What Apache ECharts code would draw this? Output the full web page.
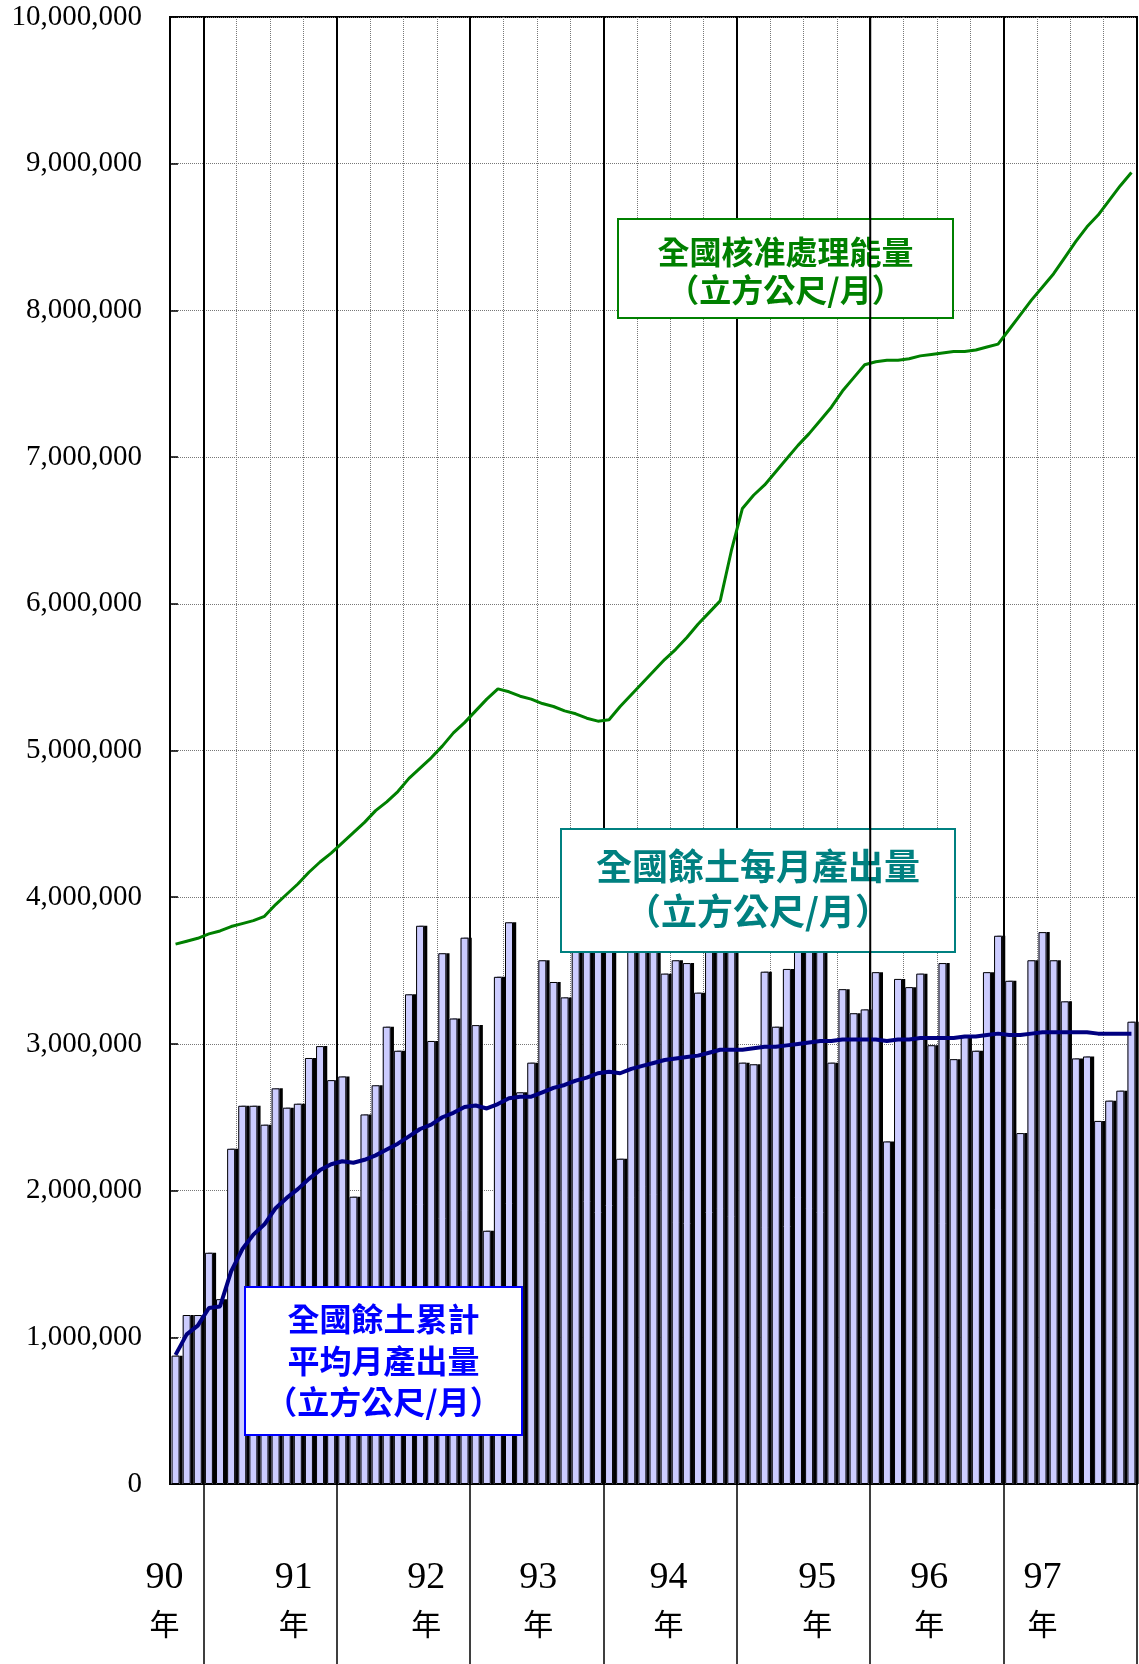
<!DOCTYPE html>
<html><head><meta charset="utf-8">
<script src="https://cdn.jsdelivr.net/npm/echarts@6/dist/echarts.min.js"></script>
<style>html,body{margin:0;padding:0;background:#fff}#c{width:1139px;height:1664px}</style>
</head><body><div id="c"></div>
<script>
const months = [
'90/10','90/11','90/12',
'91/01','91/02','91/03','91/04','91/05','91/06','91/07','91/08','91/09','91/10','91/11','91/12',
'92/01','92/02','92/03','92/04','92/05','92/06','92/07','92/08','92/09','92/10','92/11','92/12',
'93/01','93/02','93/03','93/04','93/05','93/06','93/07','93/08','93/09','93/10','93/11','93/12',
'94/01','94/02','94/03','94/04','94/05','94/06','94/07','94/08','94/09','94/10','94/11','94/12',
'95/01','95/02','95/03','95/04','95/05','95/06','95/07','95/08','95/09','95/10','95/11','95/12',
'96/01','96/02','96/03','96/04','96/05','96/06','96/07','96/08','96/09','96/10','96/11','96/12',
'97/01','97/02','97/03','97/04','97/05','97/06','97/07','97/08','97/09','97/10','97/11','97/12'];

// 全國餘土每月產出量 (m3/month)
const monthlyOutput = [
875000,1152000,1152000,1576000,1260000,2285000,2578000,2578000,2449000,2697000,
2565000,2592000,2904000,2985000,2753000,2778000,1958000,2519000,2718000,3117000,
2953000,3338000,3805000,3020000,3618000,3173000,3724000,3128000,1726000,3457000,
3829000,2670000,2872000,3570000,3422000,3317000,3750000,3850000,3700000,3800000,
2217000,3900000,4050000,3950000,3479000,3570000,3551000,3349000,3700000,3750000,
3650000,2872000,2861000,3492000,3117000,3511000,3900000,3750000,3700000,2872000,
3373000,3209000,3235000,3489000,2335000,3443000,3387000,3479000,2991000,3551000,
2896000,3058000,2953000,3489000,3737000,3430000,2392000,3570000,3762000,3570000,
3290000,2901000,2914000,2475000,2613000,2681000,3151000];

// 全國核准處理能量
const approvedCapacity = [
3680000,3700000,3720000,3750000,3770000,3800000,3820000,3840000,3870000,3950000,
4020000,4090000,4170000,4240000,4300000,4370000,4440000,4510000,4590000,4650000,
4720000,4810000,4880000,4950000,5030000,5120000,5190000,5270000,5350000,5420000,
5400000,5370000,5350000,5320000,5300000,5270000,5250000,5220000,5200000,5210000,
5300000,5380000,5460000,5540000,5620000,5690000,5770000,5860000,5940000,6020000,
6360000,6650000,6740000,6810000,6900000,6990000,7080000,7160000,7250000,7340000,
7450000,7540000,7630000,7650000,7660000,7660000,7670000,7690000,7700000,7710000,
7720000,7720000,7730000,7750000,7770000,7870000,7970000,8070000,8160000,8250000,
8360000,8470000,8570000,8650000,8750000,8850000,8940000];

// 全國餘土累計平均月產出量
const cumulativeAverage = [
880000,1020000,1080000,1200000,1210000,1450000,1600000,1700000,1770000,1880000,
1950000,2010000,2080000,2140000,2180000,2200000,2190000,2210000,2240000,2280000,
2320000,2370000,2420000,2450000,2500000,2530000,2570000,2580000,2560000,2590000,
2630000,2640000,2640000,2670000,2700000,2720000,2750000,2770000,2800000,2810000,
2800000,2830000,2850000,2870000,2890000,2900000,2910000,2920000,2940000,2960000,
2960000,2960000,2970000,2980000,2980000,2990000,3000000,3010000,3020000,3020000,
3030000,3030000,3030000,3030000,3020000,3030000,3030000,3040000,3040000,3040000,
3040000,3050000,3050000,3060000,3070000,3060000,3060000,3070000,3080000,3080000,
3080000,3080000,3080000,3070000,3070000,3070000,3070000];

const yearLabels = ['90','91','92','93','94','95','96','97'];
const yearLabelAt = [0,11,23,33,44,58,68,78];   // category under which each year label sits
const yearLabelNudge = [-11,-4,-5,-4,4,-3,-2,0]; // small horizontal nudge (px), layout only
const yAxisTicks = {min: 0, max: 10000000, interval: 1000000};

const isYearStart = i => i > 0 && months[i].slice(3) === '01';
const isQuarterLine = i => i > 0 && ['04','07','10'].includes(months[i].slice(3));

const chart = echarts.init(document.getElementById('c'));
const gridBox = {left: 170, right: 2, top: 17, bottom: 180};

const rich = {};
yearLabels.forEach((y, k) => {
  const s = yearLabelNudge[k];
  const pad = s < 0 ? [0, -2 * s, 0, 0] : [0, 0, 0, 2 * s];
  rich['a' + k] = {fontFamily: 'Liberation Serif', fontSize: 38, color: '#000', lineHeight: 46, align: 'center', padding: pad};
  rich['b' + k] = {fontFamily: 'Noto Sans CJK TC', fontSize: 30, color: '#000', lineHeight: 46, align: 'center', padding: pad};
});

chart.setOption({
  animation: false,
  backgroundColor: '#fff',
  grid: Object.assign({show: true, borderColor: '#000', borderWidth: 2, backgroundColor: '#fff', containLabel: false, outerBoundsMode: 'none'}, gridBox),
  xAxis: [{
    type: 'category', data: months, boundaryGap: true, position: 'bottom',
    axisLine: {show: true, lineStyle: {color: '#000', width: 2}},
    axisTick: {show: false},
    axisLabel: {show: false},
    splitLine: {show: true, interval: (i) => isQuarterLine(i), lineStyle: {color: '#777', width: 1, type: 'dotted'}}
  }, {
    type: 'category', data: months, boundaryGap: true, position: 'bottom',
    axisLine: {show: false},
    axisTick: {show: true, interval: (i) => isYearStart(i), length: 180, lineStyle: {color: '#000', width: 1.5}},
    splitLine: {show: true, interval: (i) => isYearStart(i), lineStyle: {color: '#000', width: 2, type: 'solid'}},
    axisLabel: {
      show: true, interval: (i) => yearLabelAt.includes(i), margin: 71,
      formatter: (v, i) => {
        const k = yearLabelAt.indexOf(i);
        if (k < 0) return '';
        return '{a' + k + '|' + yearLabels[k] + '}\n{b' + k + '|年}';
      },
      rich: rich
    }
  }],
  yAxis: {
    type: 'value', min: yAxisTicks.min, max: yAxisTicks.max, interval: yAxisTicks.interval,
    axisLine: {show: true, lineStyle: {color: '#000', width: 2}},
    axisTick: {show: true, inside: true, length: 8, lineStyle: {color: '#000', width: 1.5}},
    axisLabel: {margin: 28, fontFamily: 'Liberation Serif', fontSize: 29, color: '#000',
      formatter: v => v.toLocaleString('en-US')},
    splitLine: {show: true, lineStyle: {color: '#777', width: 1, type: 'dotted'}}
  },
  series: [{
    // fill + dark drop shadow on the right
    name: '全國餘土每月產出量', type: 'bar', xAxisIndex: 0, data: monthlyOutput,
    barWidth: 8, z: 2,
    itemStyle: {color: '#CCCCFF', borderWidth: 0,
      shadowColor: '#000', shadowBlur: 0, shadowOffsetX: 3.2, shadowOffsetY: 0}
  }, {
    // black outline of the same bars
    name: '全國餘土每月產出量 outline', type: 'bar', xAxisIndex: 0, data: monthlyOutput,
    barWidth: 8, barGap: '-100%', z: 3, silent: true,
    itemStyle: {color: 'rgba(0,0,0,0)', borderColor: '#000', borderWidth: 1}
  }, {
    name: '全國核准處理能量', type: 'line', xAxisIndex: 0, data: approvedCapacity,
    symbol: 'none', z: 5, lineStyle: {color: '#008000', width: 3}
  }, {
    name: '全國餘土累計平均月產出量', type: 'line', xAxisIndex: 0, data: cumulativeAverage,
    symbol: 'none', z: 6, lineStyle: {color: '#000080', width: 4}
  }]
});

function box(x, y, w, h, color, lines, cx, ys, fs) {
  const items = [{type: 'rect', z: 100, shape: {x: x, y: y, width: w, height: h},
    style: {fill: '#fff', stroke: color, lineWidth: 2}}];
  lines.forEach((t, k) => items.push({type: 'text', z: 101,
    style: {text: t, x: cx, y: ys[k], align: 'center', verticalAlign: 'middle',
      fill: color, fontSize: fs[k], fontWeight: 'bold', fontFamily: 'Noto Sans CJK TC'}}));
  return items;
}

// the 95/96 year-boundary line is drawn over the green label box in the original
const idx96 = months.indexOf('96/01');
const xb = (chart.convertToPixel({xAxisIndex: 0}, idx96) + chart.convertToPixel({xAxisIndex: 0}, idx96 - 1)) / 2;
const yTop = chart.convertToPixel({yAxisIndex: 0}, yAxisTicks.max);
const yBot = chart.convertToPixel({yAxisIndex: 0}, yAxisTicks.min);

chart.setOption({graphic: [].concat(
  box(618, 219, 335, 99, '#008000', ['全國核准處理能量', '（立方公尺/月）'], 785.5, [252, 290], [32, 32]),
  box(561, 829, 394, 123, '#008080', ['全國餘土每月產出量', '（立方公尺/月）'], 758, [866, 911], [36, 36]),
  box(245, 1287, 277, 148, '#0000FF', ['全國餘土累計', '平均月產出量', '（立方公尺/月）'], 383.5, [1319, 1361, 1402], [32, 32, 32]),
  [{type: 'line', z: 110, shape: {x1: xb, y1: yTop, x2: xb, y2: yBot}, style: {stroke: '#000', lineWidth: 2}}]
)});
</script></body></html>
